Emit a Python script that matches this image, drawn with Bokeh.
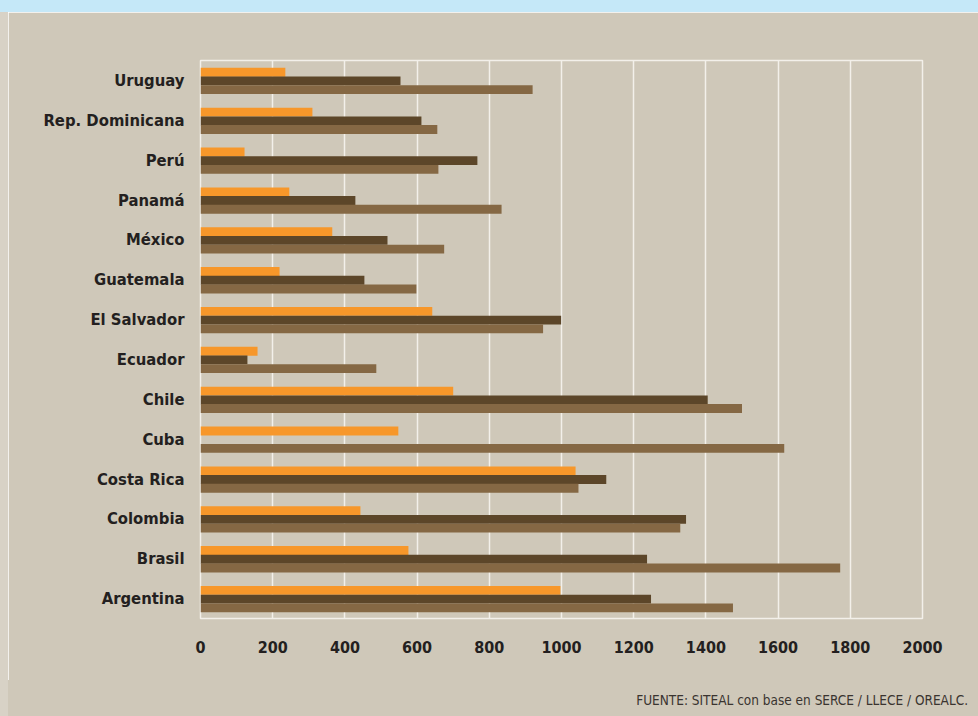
from bokeh.plotting import figure
from bokeh.models import FactorRange, Range1d, Div, FixedTicker
from bokeh.layouts import column, row
from bokeh.transform import dodge
from bokeh.embed import file_html
from bokeh.resources import INLINE

# Data (top-to-bottom as shown in the chart)
countries = ["Uruguay", "Rep. Dominicana", "Perú", "Panamá", "México", "Guatemala",
             "El Salvador", "Ecuador", "Chile", "Cuba", "Costa Rica", "Colombia",
             "Brasil", "Argentina"]
serie_naranja = [235, 310, 122, 246, 365, 219, 642, 158, 700, 548, 1039, 443, 576, 997]
serie_oscura = [554, 612, 767, 429, 518, 454, 999, 130, 1405, 0, 1124, 1345, 1237, 1248]
serie_clara = [920, 656, 659, 834, 675, 598, 949, 487, 1500, 1617, 1047, 1329, 1772, 1475]
x_ticks = [0, 200, 400, 600, 800, 1000, 1200, 1400, 1600, 1800, 2000]
fuente = "FUENTE: SITEAL con base en SERCE / LLECE / OREALC."

BG = "#cfc8b9"
ORANGE = "#f7972a"
DARK = "#5c4629"
LIGHT = "#856844"
GRID = "#f3f0ea"
TEXT = "#231f20"
STRIP = "#d8d2c6"

factors = list(reversed(countries))

p = figure(width=970, height=668, y_range=FactorRange(factors=factors),
           x_range=Range1d(0, 2000), output_backend="svg", toolbar_location=None,
           min_border_left=192, min_border_right=56, min_border_top=48,
           min_border_bottom=62, margin=0)
p.background_fill_color = BG
p.border_fill_color = BG
p.outline_line_color = GRID
p.outline_line_width = 1.5

src = dict(country=countries, a=serie_naranja, b=serie_oscura, c=serie_clara)
h = 0.222
p.hbar(y=dodge("country", 0.205, range=p.y_range), left=0, right="a", height=h,
       source=src, fill_color=ORANGE, line_color=None)
p.hbar(y=dodge("country", -0.013, range=p.y_range), left=0, right="b", height=h,
       source=src, fill_color=DARK, line_color=None)
p.hbar(y=dodge("country", -0.232, range=p.y_range), left=0, right="c", height=h,
       source=src, fill_color=LIGHT, line_color=None)

p.ygrid.grid_line_color = None
p.xgrid.grid_line_color = GRID
p.xgrid.grid_line_width = 1.5
p.xaxis.ticker = FixedTicker(ticks=x_ticks)

for ax in (p.xaxis[0], p.yaxis[0]):
    ax.axis_line_color = None
    ax.major_tick_line_color = None
    ax.minor_tick_line_color = None
    ax.major_tick_in = 0
    ax.major_tick_out = 0
    ax.minor_tick_in = 0
    ax.minor_tick_out = 0
    ax.major_label_text_color = TEXT
    ax.major_label_text_font = "DejaVu Sans Condensed"
    ax.major_label_text_font_style = "bold"

p.yaxis.major_label_text_font_size = "16.5px"
p.xaxis.major_label_text_font_size = "16px"
p.yaxis.major_label_standoff = 16
p.xaxis.major_label_standoff = 22

band = Div(width=978, height=12, margin=0,
           styles={"background-color": "#c5e8f8"})
strip = Div(width=8, height=668, margin=0,
            styles={"background-color": STRIP})
source_div = Div(text=fuente, width=978, height=36, margin=0,
                 styles={"background-color": BG, "text-align": "right",
                         "font-family": "'DejaVu Sans Condensed', sans-serif",
                         "font-size": "13.5px", "color": "#3a3430",
                         "line-height": "16px", "padding-top": "12px",
                         "padding-right": "10px", "box-sizing": "border-box",
                         "border-left": "8px solid " + STRIP,
                         "white-space": "nowrap"})
layout = column(band, row(strip, p, spacing=0, margin=0), source_div,
                spacing=0, margin=0)

open("out.html", "w").write(file_html(layout, INLINE))
